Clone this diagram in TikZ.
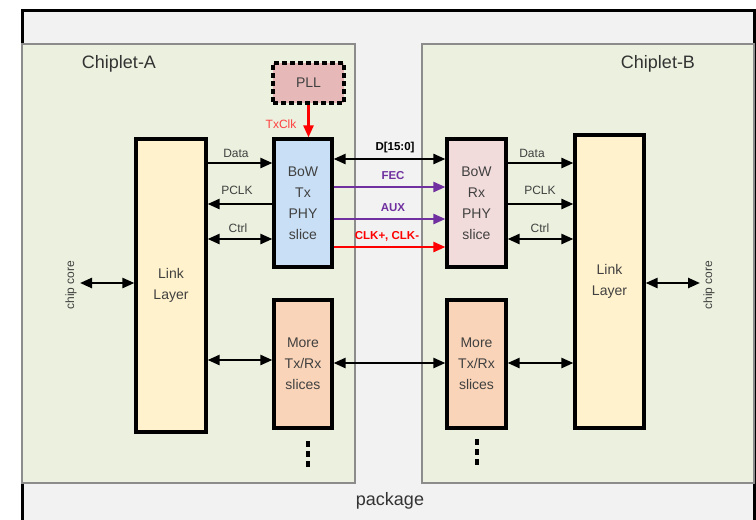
\documentclass[tikz,border=0pt]{standalone}
\usepackage{fontspec}
\setmainfont{Liberation Sans}
\usetikzlibrary{arrows.meta}
\definecolor{pkgfill}{HTML}{F2F2F2}
\definecolor{chipfill}{HTML}{EBF1DE}
\definecolor{chipdraw}{HTML}{8C8C8C}
\definecolor{linkfill}{HTML}{FFF2CC}
\definecolor{txfill}{HTML}{C9DFF5}
\definecolor{rxfill}{HTML}{F2DCDB}
\definecolor{morefill}{HTML}{FAD4B8}
\definecolor{pllfill}{HTML}{E6B9B8}
\definecolor{purp}{HTML}{7030A0}
\definecolor{txtgray}{HTML}{404040}
\begin{document}
\begin{tikzpicture}[x=1pt,y=-1pt,
  blk/.style={draw=black,line width=3.2pt,minimum width=#1,inner sep=0pt,align=center,
    text=txtgray,font=\fontsize{14}{21}\selectfont},
  arr/.style={line width=2.4pt,-{Triangle[length=12pt,width=10pt]}},
  darr/.style={line width=2.4pt,{Triangle[length=12pt,width=10pt]}-{Triangle[length=12pt,width=10pt]}},
  lbl/.style={text=txtgray,font=\fontsize{12}{14}\selectfont,inner sep=0pt},
  blbl/.style={font=\bfseries\fontsize{11.5}{14}\selectfont,inner sep=0pt},
  chiplbl/.style={text=txtgray!80!black,font=\fontsize{18}{20}\selectfont,inner sep=0pt},
  dots/.style={line width=4pt,dash pattern=on 6pt off 4pt}
]
\useasboundingbox (0,0) rectangle (756,520);
% package
\fill[pkgfill] (22,10) rectangle (754,520);
\draw[line width=3pt] (22,520) -- (22,10) -- (754,10) -- (754,520);
% chiplets
\draw[chipdraw,fill=chipfill,line width=2pt] (22,44) rectangle (355,483);
\draw[chipdraw,fill=chipfill,line width=2pt] (422,44) rectangle (754,483);
\node[chiplbl] (chipA) at (119,64) {Chiplet-A};
\node[chiplbl] (chipB) at (658,64) {Chiplet-B};
\node[chiplbl] (pkg) at (390,501) {package};
% blocks
\node[blk=70pt,minimum height=293pt,fill=linkfill] (linkA) at (171,285.5) {Link\\Layer};
\node[blk=58pt,minimum height=128pt,fill=txfill] (tx) at (303,203) {BoW\\Tx\\PHY\\slice};
\node[blk=58pt,minimum height=128pt,fill=morefill] (moreA) at (303,364) {More\\Tx/Rx\\slices};
\node[blk=71pt,minimum height=40pt,fill=pllfill,dashed,dash pattern=on 5pt off 3pt] (pll) at (308.5,83) {PLL};
\node[blk=59pt,minimum height=128pt,fill=rxfill] (rx) at (476.5,203) {BoW\\Rx\\PHY\\slice};
\node[blk=59pt,minimum height=128pt,fill=morefill] (moreB) at (476.5,364) {More\\Tx/Rx\\slices};
\node[blk=69pt,minimum height=293pt,fill=linkfill] (linkB) at (609.5,281.5) {Link\\Layer};
% chip core
\node[lbl,rotate=90,font=\fontsize{12}{13}\selectfont] (coreA) at (71,285) {chip core};
\node[lbl,rotate=90,font=\fontsize{12}{13}\selectfont] (coreB) at (709,285) {chip core};
\coordinate (cA) at (80,283);
\coordinate (cB) at (700,283);
\draw[darr] (cA) -- (linkA.west |- cA);
\draw[darr] (linkB.east |- cB) -- (cB);
% PLL
\draw[arr,red] (pll.south) -- (tx.north -| pll.south);
\node[lbl,text=red!75!white] (txclk) at (281,124) {TxClk};
% A side
\draw[arr] (linkA.east |- 0,163) -- (tx.west |- 0,163);
\draw[arr] (tx.west |- 0,204) -- (linkA.east |- 0,204);
\draw[darr] (linkA.east |- 0,239) -- (tx.west |- 0,239);
\draw[darr] (linkA.east |- 0,360) -- (moreA.west |- 0,360);
\node[lbl] (dataA) at (236,153) {Data};
\node[lbl] (pclkA) at (237,190) {PCLK};
\node[lbl] (ctrlA) at (238,228) {Ctrl};
% B side
\draw[arr] (rx.east |- 0,163) -- (linkB.west |- 0,163);
\draw[arr] (rx.east |- 0,204) -- (linkB.west |- 0,204);
\draw[darr] (rx.east |- 0,239) -- (linkB.west |- 0,239);
\draw[darr] (moreB.east |- 0,363) -- (linkB.west |- 0,363);
\node[lbl] (dataB) at (532,153) {Data};
\node[lbl] (pclkB) at (540,190) {PCLK};
\node[lbl] (ctrlB) at (540,228) {Ctrl};
% cross links
\draw[darr] (tx.east |- 0,159) -- (rx.west |- 0,159);
\draw[arr,purp] (tx.east |- 0,187) -- (rx.west |- 0,187);
\draw[arr,purp] (tx.east |- 0,219) -- (rx.west |- 0,219);
\draw[arr,red] (tx.east |- 0,247) -- (rx.west |- 0,247);
\draw[darr] (moreA.east |- 0,363) -- (moreB.west |- 0,363);
\node[blbl] (dlbl) at (395,148) {D[15:0]};
\node[blbl,text=purp] (fec) at (393,176) {FEC};
\node[blbl,text=purp] (aux) at (393,208) {AUX};
\node[blbl,text=red] (clk) at (387,236) {CLK+, CLK-};
% dots
\coordinate (dA1) at (308,441);
\coordinate (dA2) at (308,470);
\coordinate (dB1) at (477,439);
\coordinate (dB2) at (477,468);
\draw[dots] (dA1) -- (dA2);
\draw[dots] (dB1) -- (dB2);
\end{tikzpicture}
\end{document}
